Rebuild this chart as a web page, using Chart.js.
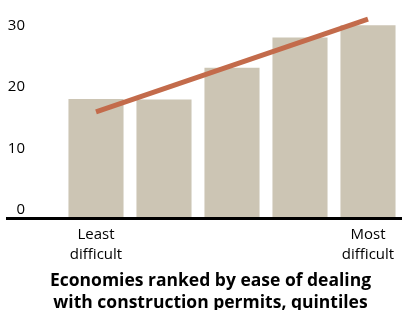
<!DOCTYPE html>
<html>
<head>
<meta charset="utf-8">
<script src="https://cdn.jsdelivr.net/npm/chart.js@4.4.0/dist/chart.umd.min.js"></script>
<style>
  html, body { margin: 0; padding: 0; background: #fff; }
  #wrap { width: 402px; height: 310px; }
</style>
</head>
<body>
<div id="wrap"><canvas id="chart"></canvas></div>
<script>
// quintiles, least -> most difficult
const categories = [["Least", "difficult"], "", "", "", ["Most", "difficult"]];
const barValues = [19.2, 19.1, 24.3, 29.2, 31.2];
// trend line, only its two ends
const trendValues = [17.1, null, null, null, 32.2];
const yTicks = [0, 10, 20, 30];
const titleLines = ["Economies ranked by ease of dealing", "with construction permits, quintiles"];

const FONT = "'Open Sans', 'Noto Sans', sans-serif";

// black base line, runs further left than the plot area
const baseLine = {
  id: "baseLine",
  afterDatasetsDraw(chart) {
    const ctx = chart.ctx;
    const y0 = chart.scales.y.getPixelForValue(0);
    ctx.save();
    ctx.strokeStyle = "#000";
    ctx.lineWidth = 3;
    ctx.beginPath();
    ctx.moveTo(6, y0 + 1.5);
    ctx.lineTo(chart.width, y0 + 1.5);
    ctx.stroke();
    ctx.restore();
  }
};

// bold caption under the axis
const caption = {
  id: "caption",
  afterDraw(chart) {
    const ctx = chart.ctx;
    ctx.save();
    ctx.font = "bold 17.5px " + FONT;
    ctx.fillStyle = "#000";
    ctx.textAlign = "center";
    ctx.textBaseline = "alphabetic";
    titleLines.forEach((t, i) => ctx.fillText(t, 210.5, 286 + i * 21.5));
    ctx.restore();
  }
};

new Chart(document.getElementById("chart"), {
  type: "bar",
  data: {
    labels: categories,
    datasets: [
      {
        type: "line",
        data: trendValues,
        spanGaps: true,
        borderColor: "#c36b4b",
        borderWidth: 5,
        pointRadius: 0,
        borderCapStyle: "butt",
        order: 0
      },
      {
        data: barValues,
        backgroundColor: "#ccc5b4",
        barPercentage: 0.81,
        categoryPercentage: 1,
        order: 1
      }
    ]
  },
  options: {
    responsive: true,
    maintainAspectRatio: false,
    animation: false,
    events: [],
    layout: { padding: { top: 8, bottom: 37, left: 0, right: 0 } },
    plugins: { legend: { display: false }, tooltip: { enabled: false } },
    scales: {
      x: {
        grid: { display: false, drawTicks: false },
        border: { display: false },
        afterFit(scale) {
          scale.paddingLeft = 0;
          scale.paddingRight = 0;
        },
        ticks: {
          color: "#000",
          padding: 8,
          maxRotation: 0,
          autoSkip: false,
          font: { family: FONT, size: 15, lineHeight: 1.333 }
        }
      },
      y: {
        min: 0,
        max: 34,
        grid: { display: false, drawTicks: false },
        border: { display: false },
        afterBuildTicks(scale) {
          scale.ticks = yTicks.map(v => ({ value: v }));
        },
        afterFit(scale) {
          scale.width = 62;
          scale.paddingTop = 0;
          scale.paddingBottom = 0;
        },
        ticks: {
          color: "#000",
          padding: 37,
          labelOffset: -7,
          font: { family: FONT, size: 15 }
        }
      }
    }
  },
  plugins: [baseLine, caption]
});
</script>
</body>
</html>
